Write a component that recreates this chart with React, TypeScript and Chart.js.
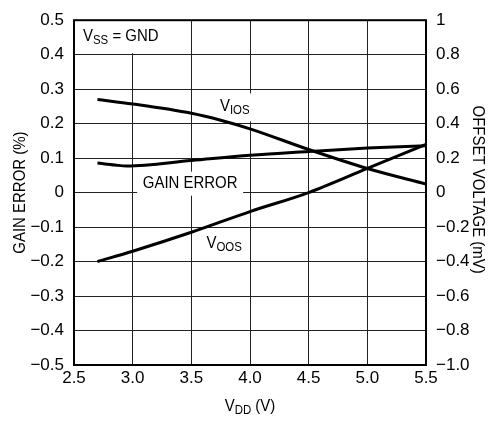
import React, { useEffect, useRef } from 'react';
import { Chart, registerables } from 'chart.js';

Chart.register(...registerables);

const FONT = '"Liberation Sans Narrow", "Liberation Sans", Arial, sans-serif';

// X axis (VDD, volts)
const xTickLabels = ['2.5', '3.0', '3.5', '4.0', '4.5', '5.0', '5.5'];
const leftTickLabels = ['\u22120.5', '\u22120.4', '\u22120.3', '\u22120.2', '\u22120.1', '0', '0.1', '0.2', '0.3', '0.4', '0.5'];
const rightTickLabels = ['\u22121.0', '\u22120.8', '\u22120.6', '\u22120.4', '\u22120.2', '0', '0.2', '0.4', '0.6', '0.8', '1'];

// Gain error (%), left axis
const gainX = [2.7, 2.85, 2.95, 3.5, 4.0, 4.5, 5.0, 5.5];
const gainY = [0.086, 0.08, 0.077, 0.093, 0.108, 0.119, 0.129, 0.136];

// VIOS (mV), right axis
const viosX = [2.7, 3.0, 3.5, 3.75, 4.0, 4.5, 5.0, 5.5];
const viosY = [0.54, 0.514, 0.46, 0.42, 0.37, 0.25, 0.14, 0.05];

// VOOS (mV), right axis
const voosX = [2.7, 3.0, 3.5, 4.0, 4.5, 5.0, 5.5];
const voosY = [-0.4, -0.34, -0.23, -0.11, 0.0, 0.14, 0.28];

type Part = { t: string; sub?: boolean };

const MAIN = 17;
const SUB = 13;
const SX = 0.88;

function drawRich(ctx: CanvasRenderingContext2D, parts: Part[], x: number, y: number, align: 'left' | 'center') {
  ctx.save();
  ctx.textBaseline = 'middle';
  ctx.textAlign = 'left';
  ctx.fillStyle = '#000';
  let total = 0;
  for (const p of parts) {
    ctx.font = `${p.sub ? SUB : MAIN}px ${FONT}`;
    total += ctx.measureText(p.t).width;
  }
  ctx.translate(x, y);
  ctx.scale(SX, 1);
  let cx = align === 'center' ? -total / 2 : 0;
  for (const p of parts) {
    ctx.font = `${p.sub ? SUB : MAIN}px ${FONT}`;
    ctx.fillText(p.t, cx, p.sub ? 4 : 0);
    cx += ctx.measureText(p.t).width;
  }
  ctx.restore();
}

function drawRotated(ctx: CanvasRenderingContext2D, text: string, x: number, y: number, angle: number) {
  ctx.save();
  ctx.translate(x, y);
  ctx.rotate(angle);
  ctx.scale(SX, 1);
  ctx.font = `${MAIN}px ${FONT}`;
  ctx.fillStyle = '#000';
  ctx.textAlign = 'center';
  ctx.textBaseline = 'middle';
  ctx.fillText(text, 0, 0);
  ctx.restore();
}

const decorPlugin = {
  id: 'decor',
  beforeDatasetsDraw(chart: any) {
    const { ctx } = chart;
    const xs = chart.scales.x;
    const ys = chart.scales.y;
    const a = chart.chartArea;
    ctx.save();
    ctx.fillStyle = '#fff';
    // VSS = GND box
    ctx.fillRect(a.left, a.top, 96, 33);
    // GAIN ERROR label box
    const gx = xs.getPixelForValue(3.49);
    const gy = ys.getPixelForValue(0.026);
    ctx.fillRect(gx - 53, gy - 12, 106, 24);
    // VIOS label box
    const vx = xs.getPixelForValue(3.87);
    const vy = ys.getPixelForValue(0.25);
    ctx.fillRect(vx - 21, vy - 13, 42, 28);
    ctx.restore();
  },
  afterDatasetsDraw(chart: any) {
    const { ctx } = chart;
    const xs = chart.scales.x;
    const ys = chart.scales.y;
    const a = chart.chartArea;
    ctx.save();
    ctx.strokeStyle = '#000';
    ctx.lineWidth = 2;
    ctx.strokeRect(a.left, a.top, a.right - a.left, a.bottom - a.top);
    ctx.restore();

    drawRich(ctx, [{ t: 'V' }, { t: 'SS', sub: true }, { t: ' = GND' }], a.left + 9, a.top + 16, 'left');
    drawRich(ctx, [{ t: 'GAIN ERROR' }], xs.getPixelForValue(3.49), ys.getPixelForValue(0.026), 'center');
    drawRich(ctx, [{ t: 'V' }, { t: 'IOS', sub: true }], xs.getPixelForValue(3.87), ys.getPixelForValue(0.25), 'center');
    drawRich(ctx, [{ t: 'V' }, { t: 'OOS', sub: true }], xs.getPixelForValue(3.78), ys.getPixelForValue(-0.146), 'center');

    // X title
    drawRich(ctx, [{ t: 'V' }, { t: 'DD', sub: true }, { t: ' (V)' }], (a.left + a.right) / 2, 406, 'center');

    // Axis titles
    drawRotated(ctx, 'GAIN ERROR (%)', 20, (a.top + a.bottom) / 2, -Math.PI / 2);
    drawRotated(ctx, 'OFFSET VOLTAGE (mV)', 478, (a.top + a.bottom) / 2 - 3, Math.PI / 2);
  },
};

export default function App() {
  const ref = useRef<HTMLCanvasElement | null>(null);
  useEffect(() => {
    if (!ref.current) return;
    const tickFont = { family: FONT, size: MAIN };
    const line = (xs: number[], ys: number[], axis: string, label: string) => ({
      label,
      data: xs.map((x, i) => ({ x, y: ys[i] })),
      yAxisID: axis,
      borderColor: '#000',
      borderWidth: 3,
      pointRadius: 0,
      fill: false,
      cubicInterpolationMode: 'monotone' as const,
    });
    const chart = new Chart(ref.current, {
      type: 'line',
      data: {
        datasets: [
          line(gainX, gainY, 'y', 'GAIN ERROR'),
          line(viosX, viosY, 'y2', 'VIOS'),
          line(voosX, voosY, 'y2', 'VOOS'),
        ],
      },
      options: {
        animation: false,
        responsive: false,
        devicePixelRatio: 1,
        layout: { padding: { top: 15, left: 0, right: 0, bottom: 0 } },
        plugins: { legend: { display: false }, tooltip: { enabled: false } },
        scales: {
          x: {
            type: 'linear',
            min: 2.5,
            max: 5.5,
            ticks: {
              stepSize: 0.5,
              color: '#000',
              font: tickFont,
              padding: 3,
              maxRotation: 0,
              callback: (_v: any, i: number) => xTickLabels[i],
            },
            grid: { color: '#222', lineWidth: 1, drawTicks: false },
            border: { display: false },
            afterFit: (s: any) => { s.height = 61; },
          },
          y: {
            type: 'linear',
            position: 'left',
            min: -0.5,
            max: 0.5,
            ticks: {
              stepSize: 0.1,
              color: '#000',
              font: tickFont,
              padding: 10,
              callback: (_v: any, i: number) => leftTickLabels[i],
            },
            grid: { color: '#222', lineWidth: 1, drawTicks: false },
            border: { display: false },
            afterFit: (s: any) => { s.width = 74; },
          },
          y2: {
            type: 'linear',
            position: 'right',
            min: -1,
            max: 1,
            ticks: {
              stepSize: 0.2,
              color: '#000',
              font: tickFont,
              padding: 10,
              callback: (_v: any, i: number) => rightTickLabels[i],
            },
            grid: { drawOnChartArea: false, drawTicks: false },
            border: { display: false },
            afterFit: (s: any) => { s.width = 69; },
          },
        },
      },
      plugins: [decorPlugin],
    });
    return () => chart.destroy();
  }, []);
  return (
    <div style={{ position: 'absolute', left: 0, top: 0, width: 495, height: 426, background: '#fff' }}>
      <canvas ref={ref} width={495} height={426} />
    </div>
  );
}
